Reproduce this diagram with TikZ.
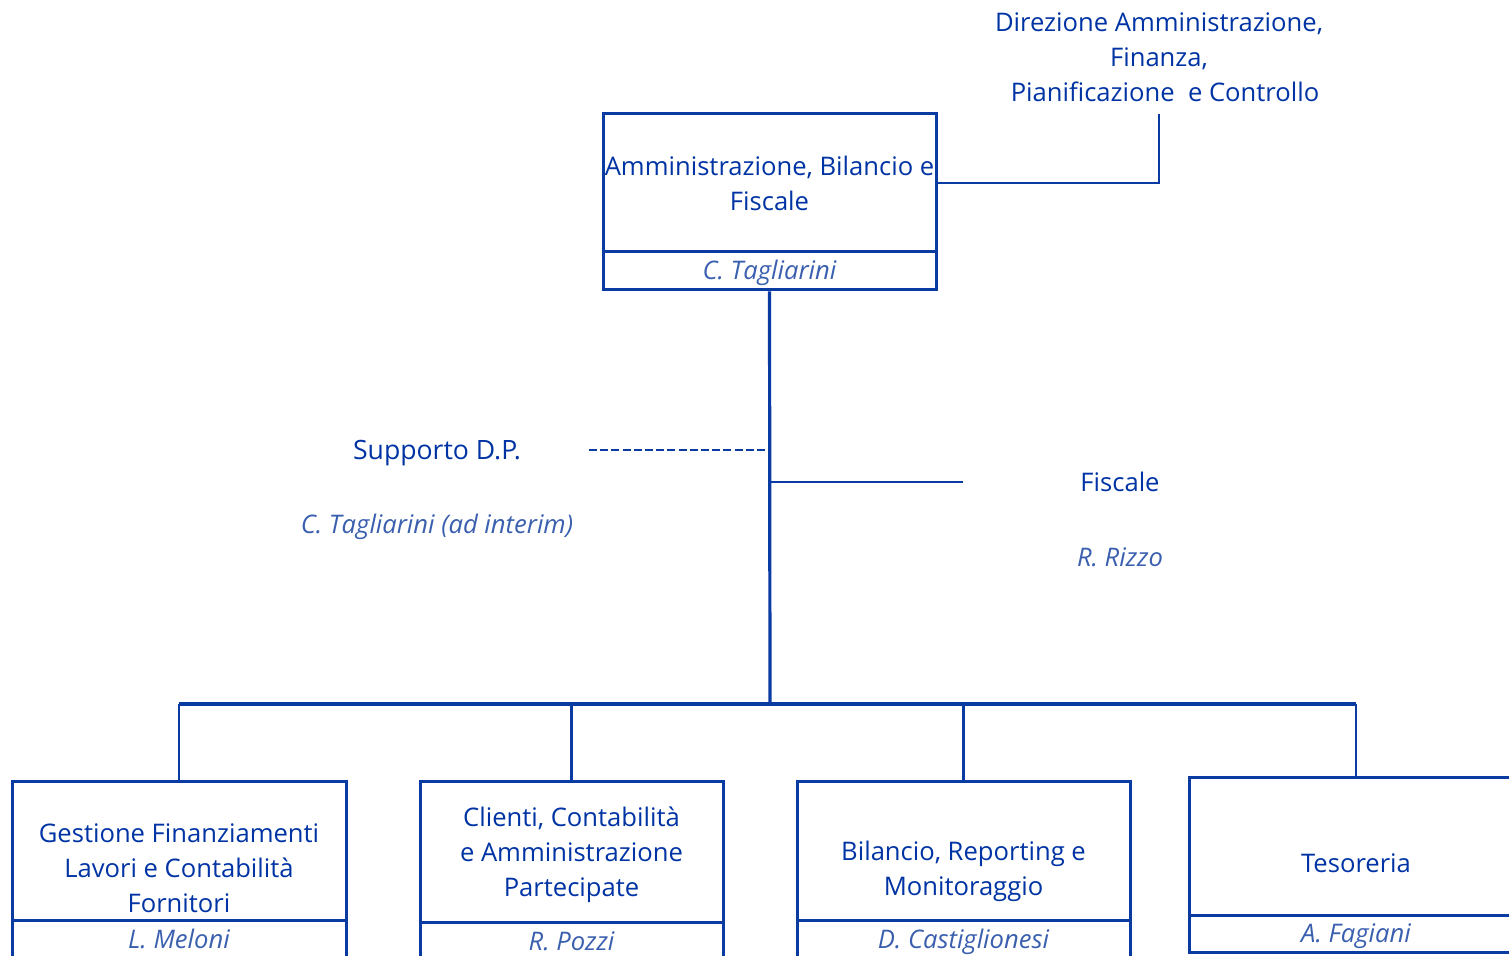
\documentclass[tikz,border=0pt]{standalone}
\usepackage{fontspec}
\setmainfont{Open Sans}
\usetikzlibrary{positioning}
\definecolor{bluLinea}{HTML}{0A3BA3}
\definecolor{bluTesto}{HTML}{0033A3}
\definecolor{bluNome}{HTML}{3A5FAE}

\begin{document}
\begin{tikzpicture}[x=0.5pt, y=-0.5pt,
    ufficio/.style={draw=bluLinea, line width=1.5pt, inner sep=0pt, align=center,
                    font=\fontsize{12.8}{17.5}\selectfont, text=bluTesto},
    nome/.style={draw=bluLinea, line width=1.5pt, inner sep=0pt, minimum height=19pt,
                 text height=10.5pt, text depth=1.5pt,
                 font=\fontsize{12.8}{17.5}\selectfont\itshape, text=bluNome},
    testo/.style={align=center, font=\fontsize{12.8}{17.5}\selectfont, text=bluTesto},
    corsivo/.style={font=\fontsize{12.8}{17.5}\selectfont\itshape, text=bluNome},
    spessa/.style={draw=bluLinea, line width=1.6pt},
    sottile/.style={draw=bluLinea, line width=1.1pt}]
    \useasboundingbox (0,0) rectangle (1509,956);
    \clip (0,0) rectangle (1509,956);
    % vertice
    \node[ufficio, minimum width=166.5pt, minimum height=69pt] (amm) at (769.5,183) {Amministrazione, Bilancio e\\Fiscale};
    \node[nome, minimum width=166.5pt] (ammN) at (769.5,271) {C. Tagliarini};
    \node[testo, inner sep=6pt] (dir) at (1159,57) {Direzione Amministrazione,\\Finanza,\\\hspace*{6pt}Pianificazione\ \ e Controllo};
    \draw[sottile] (amm.east) -| (dir.south);
    % staff
    \node[testo, font=\fontsize{13.3}{17.5}\selectfont] (supp) at (437,453) {Supporto D.P.};
    \node[corsivo] (suppN) at (437,527) {C. Tagliarini (ad interim)};
    \node[testo] (fisc) at (1120,482) {Fiscale};
    \node[corsivo] (fiscN) at (1120,557) {R. Rizzo};
    \coordinate (fineSupp) at (589,450);
    \coordinate (nodoSupp) at (769,450);
    \coordinate (nodoFisc) at (770,482);
    \coordinate (fineFisc) at (963,482);
    \coordinate (bus) at (770,704);
    \draw[spessa] (ammN.south) -- (bus);
    \draw[sottile, line width=1.2pt, dash pattern=on 4pt off 1.6pt] (fineSupp) -- (nodoSupp);
    \draw[sottile] (nodoFisc) -- (fineFisc);
    % uffici
    \node[ufficio, minimum width=167pt, minimum height=69.5pt] (gfl) at (179,850.5) {};
    \node[testo] (gflT) at (179,868) {Gestione Finanziamenti\\Lavori e Contabilità\\Fornitori};
    \node[nome, minimum width=167pt] (gflN) at (179,939) {L. Meloni};
    \node[ufficio, minimum width=151.5pt, minimum height=70.5pt] (cca) at (571.5,851.5) {};
    \node[testo] (ccaT) at (571.5,854.5) {Clienti, Contabilità\\e Amministrazione\\Partecipate};
    \node[nome, minimum width=151.5pt] (ccaN) at (571.5,941) {R. Pozzi};
    \node[ufficio, minimum width=166.5pt, minimum height=69.5pt] (brm) at (963.5,850.5) {};
    \node[testo] (brmT) at (963.5,871.5) {Bilancio, Reporting e\\Monitoraggio};
    \node[nome, minimum width=166.5pt] (brmN) at (963.5,939) {D. Castiglionesi};
    \node[ufficio, minimum width=167pt, minimum height=69pt] (tes) at (1356,846) {};
    \node[testo] (tesT) at (1356,863) {Tesoreria};
    \node[nome, minimum width=167pt, minimum height=18.5pt] (tesN) at (1356,933.5) {A. Fagiani};
    \draw[spessa] (gfl.north |- bus) -- (tes.north |- bus);
    \foreach \u in {gfl,cca,brm,tes}
      \draw[sottile] (\u.north |- bus) -- (\u.north);
  \end{tikzpicture}
\end{document}
